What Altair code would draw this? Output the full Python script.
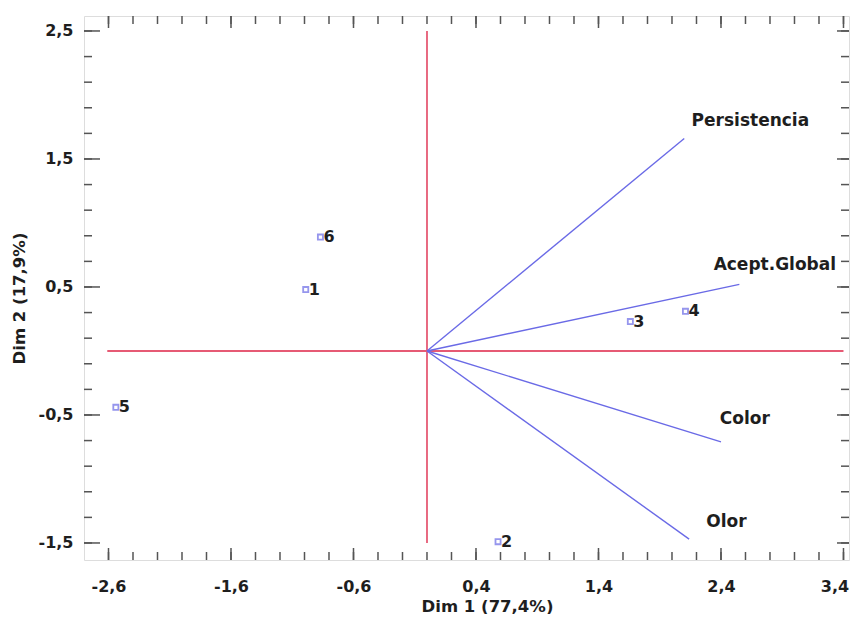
import altair as alt
import pandas as pd
import numpy as np

# Observations (scores)
obs_labels = ["1", "2", "3", "4", "5", "6"]
obs_x = [-0.99, 0.58, 1.66, 2.11, -2.54, -0.87]
obs_y = [0.48, -1.49, 0.23, 0.31, -0.44, 0.89]

# Variables (loadings)
var_names = ["Persistencia", "Acept.Global", "Color", "Olor"]
var_x = [2.10, 2.55, 2.40, 2.14]
var_y = [1.66, 0.52, -0.71, -1.47]
label_x = [2.16, 2.34, 2.39, 2.28]
label_y = [1.80, 0.67, -0.53, -1.34]

# Reference (zero) lines
hline_x = [-2.61, 3.40]
vline_y = [-1.50, 2.50]

x_ticks = [-2.6, -1.6, -0.6, 0.4, 1.4, 2.4, 3.4]
y_ticks = [-1.5, -0.5, 0.5, 1.5, 2.5]
x_title = "Dim 1 (77,4%)"
y_title = "Dim 2 (17,9%)"

W, H = 765, 544
FONT = "DejaVu Sans"
BLUE = "#6a6ae6"
RED = "#e65a74"
TICKC = "#555555"
TXT = "#1e1e1e"

xs = alt.Scale(domain=[-2.8, 3.445], nice=False, zero=False)
ys = alt.Scale(domain=[-1.633, 2.617], nice=False, zero=False)

lab_expr = "replace(replace(format(datum.value, '.1f'), '.', ','), '\u2212', '-')"

xaxis = alt.Axis(values=x_ticks, labelExpr=lab_expr, grid=False, domain=False,
                 ticks=False, tickSize=0, labelPadding=18, labelFont=FONT,
                 labelFontSize=16, labelFontWeight="bold", labelColor=TXT,
                 labelOffset={"condition": {"test": "datum.value > 3.3", "value": -9},
                              "value": 0},
                 titleFont=FONT, titleFontSize=16.5, titleFontWeight="bold",
                 titleColor=TXT, titleX=403, titleY=46,
                 titleBaseline="middle", titleAnchor="start", titleAlign="center")
yaxis = alt.Axis(values=y_ticks, labelExpr=lab_expr, grid=False, domain=False,
                 ticks=False, tickSize=0, labelPadding=11, labelFont=FONT,
                 labelFontSize=16, labelFontWeight="bold", labelColor=TXT,
                 titleFont=FONT, titleFontSize=16.5, titleFontWeight="bold",
                 titleColor=TXT, titleX=-65, titleY=282, titleAngle=270,
                 titleBaseline="middle", titleAlign="center", titleAnchor="start")


def X(field, **kw):
    return alt.X(f"{field}:Q", scale=xs, axis=xaxis, title=x_title, **kw)


def Y(field, **kw):
    return alt.Y(f"{field}:Q", scale=ys, axis=yaxis, title=y_title, **kw)


obs = pd.DataFrame({"lab": obs_labels, "x": obs_x, "y": obs_y})
var = pd.DataFrame({"name": var_names, "x0": 0.0, "y0": 0.0, "x": var_x, "y": var_y,
                    "lx": label_x, "ly": label_y})
hdf = pd.DataFrame({"x": [hline_x[0]], "x2": [hline_x[1]], "y": [0.0]})
vdf = pd.DataFrame({"y": [vline_y[0]], "y2": [vline_y[1]], "x": [0.0]})

# tick positions (axis decoration)
x_minor = [round(v, 1) for v in np.arange(-2.6, 3.41, 0.2)]
y_minor = [round(v, 1) for v in np.arange(-1.5, 2.51, 0.2)]
xmin_df = pd.DataFrame({"v": x_minor})
ymin_df = pd.DataFrame({"v": y_minor})
xmaj_df = pd.DataFrame({"v": x_ticks})
ymaj_df = pd.DataFrame({"v": y_ticks})

layers = []
# zero lines
layers.append(alt.Chart(hdf).mark_rule(color=RED, strokeWidth=1.8).encode(
    x=X("x"), x2="x2:Q", y=Y("y")))
layers.append(alt.Chart(vdf).mark_rule(color=RED, strokeWidth=1.8).encode(
    x=X("x"), y=Y("y"), y2="y2:Q"))
# vectors
layers.append(alt.Chart(var).mark_rule(color=BLUE, strokeWidth=1.4).encode(
    x=X("x0"), y=Y("y0"), x2="x:Q", y2="y:Q"))
layers.append(alt.Chart(var).mark_text(font=FONT, fontSize=17, fontWeight="bold",
                                       align="left", baseline="middle",
                                       color=TXT).encode(
    x=X("lx"), y=Y("ly"), text="name:N"))
# points
layers.append(alt.Chart(obs).mark_point(shape="square", filled=False, size=26,
                                        strokeWidth=1.8, color=BLUE).encode(
    x=X("x"), y=Y("y")))
layers.append(alt.Chart(obs).mark_text(font=FONT, fontSize=16, fontWeight="bold",
                                       align="left", baseline="middle", dx=3,
                                       color=TXT).encode(
    x=X("x"), y=Y("y"), text="lab:N"))

# inward ticks on all four sides
for df, ln in [(xmin_df, 8), (xmaj_df, 12)]:
    layers.append(alt.Chart(df).mark_rule(color=TICKC, strokeWidth=1.5).encode(
        x=X("v"), y=alt.value(H), y2=alt.value(H - ln)))
    layers.append(alt.Chart(df).mark_rule(color=TICKC, strokeWidth=1.5).encode(
        x=X("v"), y=alt.value(0), y2=alt.value(ln)))
for df, ln_l, ln_r in [(ymin_df, 8, 8), (ymaj_df, 16, 12)]:
    layers.append(alt.Chart(df).mark_rule(color=TICKC, strokeWidth=1.5).encode(
        y=Y("v"), x=alt.value(0), x2=alt.value(ln_l)))
    layers.append(alt.Chart(df).mark_rule(color=TICKC, strokeWidth=1.5).encode(
        y=Y("v"), x=alt.value(W), x2=alt.value(W - ln_r)))

chart = alt.layer(*layers).properties(
    width=W, height=H,
    autosize=alt.AutoSizeParams(type="none"),
    padding={"left": 76, "top": 8, "right": 1, "bottom": 54},
).configure_view(stroke="#666666", strokeWidth=2).configure(background="white")

chart.save("out.html", embed_options={"renderer": "svg", "actions": False})
